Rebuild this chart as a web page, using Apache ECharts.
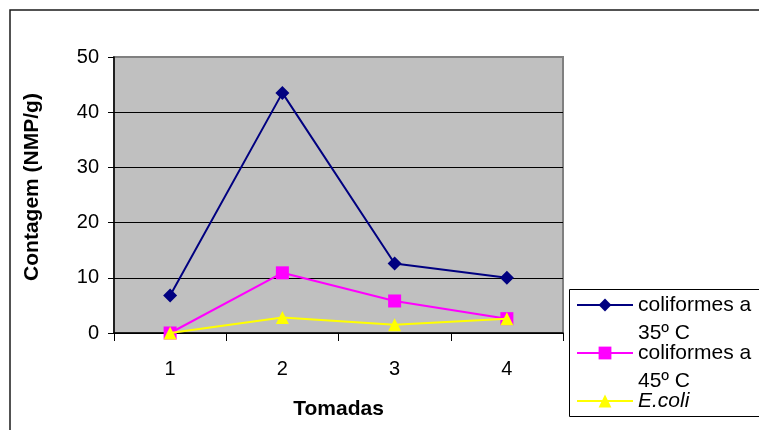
<!DOCTYPE html>
<html>
<head>
<meta charset="utf-8">
<script src="https://cdn.jsdelivr.net/npm/echarts@6/dist/echarts.min.js"></script>
<style>
  html, body { margin: 0; padding: 0; background: #fff; }
  #chart { width: 759px; height: 430px; }
</style>
</head>
<body>
<div id="chart"></div>
<script>
// Coliform counts per sampling (tomada)
const tomadas = ['1', '2', '3', '4'];
const yTicks = [0, 10, 20, 30, 40, 50];
const seriesNames = ['coliformes a 35º C', 'coliformes a 45º C', 'E.coli'];
const coliformes35 = [6.8, 43.5, 12.6, 10.0];
const coliformes45 = [0, 10.9, 5.8, 2.6];
const eColi = [0, 2.8, 1.5, 2.6];

const FONT = "'Liberation Sans', Arial, sans-serif";

// Legend labels wrap like the original box; blank lines keep the marker on the first text line
const legendLabels = {
  'coliformes a 35º C': '\ncoliformes a\n35º C',
  'coliformes a 45º C': '\ncoliformes a\n45º C',
  'E.coli': '\nE.coli\n'
};

const chart = echarts.init(document.getElementById('chart'), null, { renderer: 'canvas' });

chart.setOption({
  animation: false,
  backgroundColor: '#ffffff',
  textStyle: { fontFamily: FONT },
  graphic: [
    {
      type: 'rect',
      shape: { x: 10, y: 10, width: 800, height: 500 },
      style: { fill: 'none', stroke: '#1a1a1a', lineWidth: 1.5 },
      silent: true,
      z: -1
    },
    {
      type: 'rect',
      shape: { x: 569.5, y: 289.5, width: 220, height: 127 },
      style: { fill: '#ffffff', stroke: '#000000', lineWidth: 1 },
      silent: true,
      z: 1
    }
  ],
  grid: {
    left: 114, right: 196, top: 57, bottom: 97,
    show: true,
    backgroundColor: '#c0c0c0',
    borderColor: '#808080',
    borderWidth: 2
  },
  legend: {
    orient: 'vertical',
    left: 576,
    top: 263,
    height: 300,
    padding: 0,
    itemGap: -36,
    itemWidth: 56,
    itemHeight: 16,
    z: 5,
    formatter: name => legendLabels[name],
    textStyle: { fontFamily: FONT, fontSize: 21, color: '#000', lineHeight: 28 },
    data: [
      { name: seriesNames[0] },
      { name: seriesNames[1] },
      { name: seriesNames[2], textStyle: { fontStyle: 'italic' } }
    ]
  },
  xAxis: {
    type: 'category',
    data: tomadas,
    boundaryGap: true,
    name: 'Tomadas',
    nameLocation: 'middle',
    nameGap: 66,
    nameTextStyle: { fontFamily: FONT, fontSize: 21, fontWeight: 'bold', color: '#000' },
    axisLine: { lineStyle: { color: '#000', width: 1.5 } },
    axisTick: { show: true, length: 8, lineStyle: { color: '#000' } },
    axisLabel: { margin: 26, fontFamily: FONT, fontSize: 20, color: '#000' }
  },
  yAxis: {
    type: 'value',
    min: yTicks[0],
    max: yTicks[yTicks.length - 1],
    interval: yTicks[1] - yTicks[0],
    name: 'Contagem (NMP/g)',
    nameLocation: 'middle',
    nameGap: 71,
    nameTextStyle: { fontFamily: FONT, fontSize: 21, fontWeight: 'bold', color: '#000', padding: [0, 0, 0, 16] },
    axisLine: { show: true, lineStyle: { color: '#000', width: 1.5 } },
    axisTick: { show: true, length: 6, lineStyle: { color: '#000' } },
    axisLabel: { margin: 15, fontFamily: FONT, fontSize: 20, color: '#000' },
    splitLine: { show: true, showMaxLine: false, lineStyle: { color: '#000', width: 1 } }
  },
  series: [
    {
      name: seriesNames[0],
      type: 'line',
      data: coliformes35,
      symbol: 'diamond',
      symbolSize: 14,
      lineStyle: { color: '#000080', width: 2 },
      itemStyle: { color: '#000080' },
      z: 2
    },
    {
      name: seriesNames[1],
      type: 'line',
      data: coliformes45,
      symbol: 'rect',
      symbolSize: 13,
      lineStyle: { color: '#ff00ff', width: 2 },
      itemStyle: { color: '#ff00ff' },
      z: 3
    },
    {
      name: seriesNames[2],
      type: 'line',
      data: eColi,
      symbol: 'triangle',
      symbolSize: 13,
      lineStyle: { color: '#ffff00', width: 2 },
      itemStyle: { color: '#ffff00' },
      z: 4
    }
  ]
});
</script>
</body>
</html>
